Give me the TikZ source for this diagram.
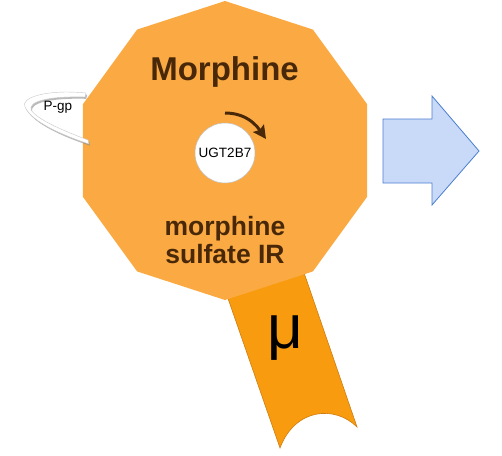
\documentclass[tikz,border=0pt]{standalone}
\usepackage{fontspec}
\setmainfont{Liberation Sans}
\usetikzlibrary{arrows.meta}
\definecolor{deco}{RGB}{251,170,67}
\definecolor{bandfill}{RGB}{248,155,15}
\definecolor{bandedge}{RGB}{205,125,15}
\definecolor{brn}{RGB}{72,40,8}
\definecolor{bluefill}{RGB}{201,218,248}
\definecolor{blueedge}{RGB}{74,126,206}
\begin{document}
\begin{tikzpicture}[x=1pt,y=-1pt,
  bigtext/.style={font=\fontsize{33}{36}\selectfont\bfseries, text=brn, inner sep=0pt},
  subtext/.style={font=\fontsize{26.5}{28}\selectfont\bfseries, text=brn, inner sep=0pt, align=center},
  smalltext/.style={font=\fontsize{13.5}{15}\selectfont, text=black, inner sep=0pt},
  enzyme/.style={circle, fill=white, draw=black!25, line width=0.5pt, minimum size=60pt, inner sep=0pt},
  bluearrow/.style={fill=bluefill, draw=blueedge, line width=0.8pt},
  pgpshape/.style={fill=white, draw=black!22, line width=0.4pt}]
\useasboundingbox (0,0) rectangle (502,455);
% receptor band
\coordinate (bA) at (224,287);
\coordinate (bB) at (300,261);
\coordinate (bC) at (280,448);
\coordinate (bD) at (357,427);
\filldraw[fill=bandfill, draw=bandedge, line width=0.6pt]
  (bA) -- (bB) -- (bD) .. controls (335,405) and (295,408) .. (bC) -- cycle;
% decagon
\fill[deco, shift={(225,150.5)}] (90:149.5)
  \foreach \a in {126,162,...,414}{ -- (\a:149.5)} -- cycle;
% P-gp ribbon
\fill[black!45, opacity=0.6, shift={(1.2,1.8)}]
  (86,93) .. controls (45,89) and (20,98) .. (25,107)
  .. controls (32,122) and (62,135) .. (89,144)
  -- (88,140) .. controls (64,131) and (38,120) .. (31,110)
  .. controls (28,101) and (50,96) .. (85,97) -- cycle;
\filldraw[pgpshape]
  (86,93) .. controls (45,89) and (20,98) .. (25,107)
  .. controls (32,122) and (62,135) .. (89,144)
  -- (88,140) .. controls (64,131) and (38,120) .. (31,110)
  .. controls (28,101) and (50,96) .. (85,97) -- cycle;
\node[smalltext, font=\fontsize{13.5}{15}\selectfont, anchor=base] (pgp) at (58,110) {P-gp};
% texts
\node[bigtext, anchor=base] (morph) at (224.5,80) {Morphine};
\node[subtext] (sulf) at (225,240.5) {morphine\\sulfate IR};
% enzyme
\node[enzyme] (ugt) at (225,153) {};
\node[smalltext, anchor=base] (ugtlabel) at (225,157) {UGT2B7};
\coordinate (arS) at (225,113);
\coordinate (arE) at (266,139);
\draw[brn, line width=3pt, -{Stealth[length=13pt,width=13pt,inset=2pt]}]
  (arS) .. controls (240,113) and (252,119) .. (arE);
% mu
\node[font=\fontsize{62}{62}\selectfont, anchor=base, inner sep=0pt] (mu) at (285,348) {μ};
% blue arrow
\filldraw[bluearrow] (383,119) -- (432,119) -- (432,96) -- (479,151)
  -- (432,205) -- (432,183) -- (383,183) -- cycle;
\end{tikzpicture}
\end{document}
